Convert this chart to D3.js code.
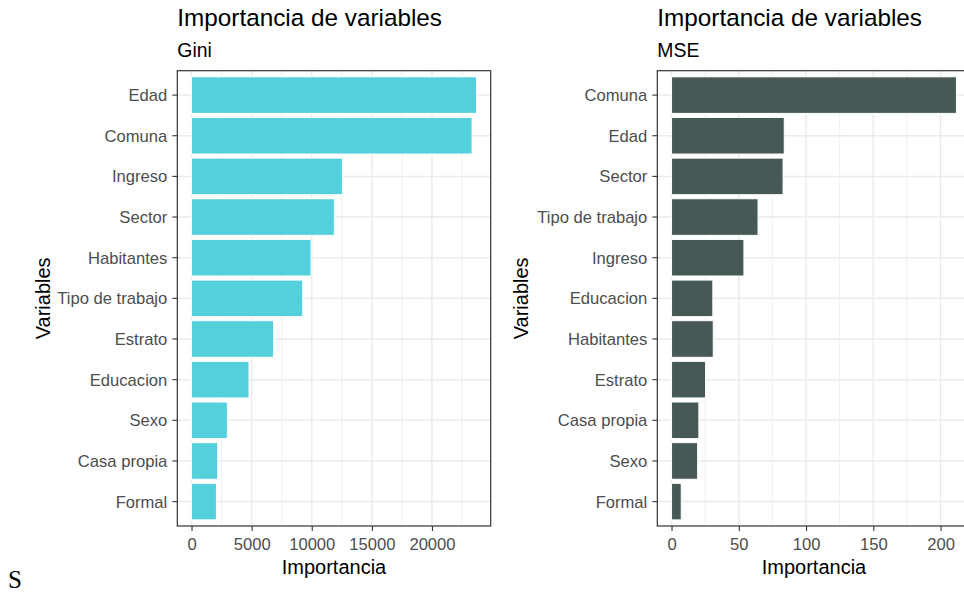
<!doctype html>
<html lang="es">
<head>
<meta charset="utf-8">
<title>Importancia de variables</title>
<script src="https://cdn.jsdelivr.net/npm/d3@7"></script>
<style>
  body { margin: 0; background: #fff; }
  svg { display: block; font-family: "Liberation Sans", Arial, sans-serif; }
  .tick text { fill: #4d4d4d; font-size: 16.6px; }
  .tick line { stroke: #333; }
  .domain { display: none; }
</style>
</head>
<body>
<svg width="964" height="592"></svg>
<script>
// Gini panel (sorted top to bottom)
var giniCats = ["Edad", "Comuna", "Ingreso", "Sector", "Habitantes", "Tipo de trabajo",
                "Estrato", "Educacion", "Sexo", "Casa propia", "Formal"];
var giniVals = [23700, 23340, 12550, 11880, 9940, 9250, 6830, 4780, 2980, 2180, 2070];
var giniTicks = [0, 5000, 10000, 15000, 20000];

// MSE panel
var mseCats = ["Comuna", "Edad", "Sector", "Tipo de trabajo", "Ingreso", "Educacion",
               "Habitantes", "Estrato", "Casa propia", "Sexo", "Formal"];
var mseVals = [211.8, 83.8, 82.9, 64.3, 53.8, 30.7, 31.0, 25.3, 20.3, 19.4, 7.2];
var mseTicks = [0, 50, 100, 150, 200];

var svg = d3.select("svg");

function drawPanel(o) {
  var g = svg.append("g");
  var max = d3.max(o.vals);

  var x = d3.scaleLinear()
    .domain([-0.05 * max, 1.05 * max])
    .range([o.left, o.right]);

  var y = d3.scaleBand()
    .domain(o.cats)
    .range([o.top, o.bottom])
    .paddingInner(0.1)
    .paddingOuter(0.15);

  var step = o.ticks[1] - o.ticks[0];
  var minor = o.ticks.map(function (t) { return t + step / 2; })
    .filter(function (t) { return x(t) < o.right; });

  // grid
  g.selectAll(".minor").data(minor).enter().append("line")
    .attr("x1", function (d) { return x(d); }).attr("x2", function (d) { return x(d); })
    .attr("y1", o.top).attr("y2", o.bottom)
    .attr("stroke", "#ebebeb").attr("stroke-width", 0.8);
  g.selectAll(".majx").data(o.ticks).enter().append("line")
    .attr("x1", function (d) { return x(d); }).attr("x2", function (d) { return x(d); })
    .attr("y1", o.top).attr("y2", o.bottom)
    .attr("stroke", "#ebebeb").attr("stroke-width", 1.5);
  g.selectAll(".majy").data(o.cats).enter().append("line")
    .attr("x1", o.left).attr("x2", o.right)
    .attr("y1", function (d) { return y(d) + y.bandwidth() / 2; })
    .attr("y2", function (d) { return y(d) + y.bandwidth() / 2; })
    .attr("stroke", "#ebebeb").attr("stroke-width", 1.5);

  // bars
  g.selectAll(".bar").data(o.cats).enter().append("rect")
    .attr("x", x(0))
    .attr("y", function (d) { return y(d); })
    .attr("width", function (d, i) { return x(o.vals[i]) - x(0); })
    .attr("height", y.bandwidth())
    .attr("fill", o.color)
    .attr("stroke", "#fff").attr("stroke-width", 1);

  // border
  g.append("rect")
    .attr("x", o.left).attr("y", o.top)
    .attr("width", o.right - o.left).attr("height", o.bottom - o.top)
    .attr("fill", "none").attr("stroke", "#333").attr("stroke-width", 1.2);

  // axes
  g.append("g")
    .attr("transform", "translate(" + o.left + ",0)")
    .call(d3.axisLeft(y).tickSize(5).tickPadding(5))
    .selectAll("text").attr("dy", "0.36em");

  g.append("g")
    .attr("transform", "translate(0," + o.bottom + ")")
    .call(d3.axisBottom(x).tickValues(o.ticks).tickFormat(d3.format("d"))
      .tickSize(5).tickPadding(7));

  g.selectAll(".tick line").attr("stroke", "#333").attr("stroke-width", 1.1);

  // titles
  g.append("text").attr("x", o.left).attr("y", 26)
    .attr("font-size", "24.3px").attr("fill", "#000")
    .text("Importancia de variables");
  g.append("text").attr("x", o.left).attr("y", 57)
    .attr("font-size", "19.4px").attr("fill", "#000")
    .text(o.sub);
  g.append("text").attr("x", (o.left + o.right) / 2).attr("y", 574)
    .attr("text-anchor", "middle").attr("font-size", "20px").attr("fill", "#000")
    .text("Importancia");
  g.append("text")
    .attr("transform", "translate(" + o.ylabX + "," + ((o.top + o.bottom) / 2) + ") rotate(-90)")
    .attr("text-anchor", "middle").attr("font-size", "20px").attr("fill", "#000")
    .text("Variables");
}

drawPanel({
  cats: giniCats, vals: giniVals, ticks: giniTicks, sub: "Gini", color: "#53d0dc",
  left: 177.3, right: 490.7, top: 70.7, bottom: 526, ylabX: 50
});

drawPanel({
  cats: mseCats, vals: mseVals, ticks: mseTicks, sub: "MSE", color: "#465957",
  left: 657.3, right: 970.7, top: 70.7, bottom: 526, ylabX: 528
});

// stray character under the figure
svg.append("text")
  .attr("x", 8).attr("y", 588)
  .attr("font-family", "'Liberation Serif', 'Times New Roman', serif")
  .attr("font-size", "25px").attr("fill", "#000")
  .text("S");
</script>
</body>
</html>
